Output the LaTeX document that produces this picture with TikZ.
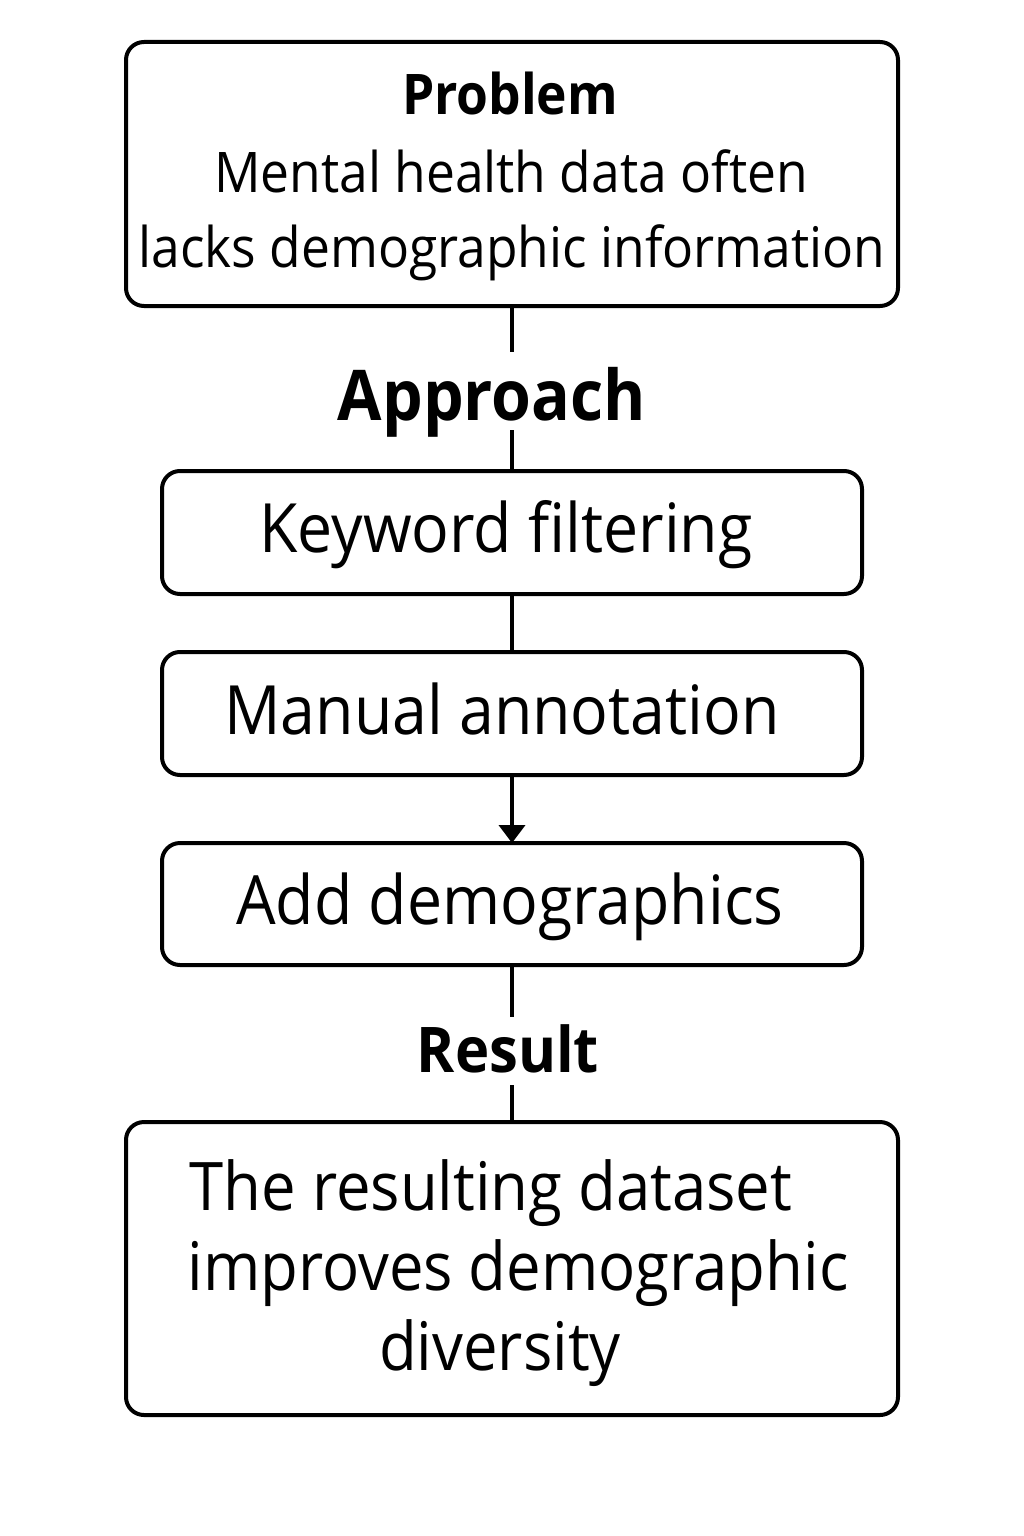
\documentclass[tikz,border=0pt]{standalone}
\usepackage{fontspec}
\setmainfont{Open Sans}[FakeStretch=0.92]
\usetikzlibrary{arrows.meta}
\tikzset{
  box/.style={draw=black, line width=4pt, rounded corners=18pt},
  conn/.style={draw=black, line width=4pt},
  txt/.style={inner sep=0pt, anchor=base},
}
\begin{document}
\begin{tikzpicture}[x=1pt,y=-1pt]
\useasboundingbox (0,0) rectangle (1024,1536);
\fill[white] (0,0) rectangle (1024,1536);
% boxes
\draw[box] (126,42) rectangle (898,306);
\draw[box] (162,471) rectangle (862,594);
\draw[box] (162,652) rectangle (862,775);
\draw[box] (162,843) rectangle (862,965);
\draw[box] (126,1122) rectangle (898,1415);
\coordinate (pb) at (512,306);
\coordinate (kt) at (512,471);
\coordinate (kb) at (512,594);
\coordinate (mt) at (512,652);
\coordinate (mb) at (512,775);
\coordinate (at) at (512,843);
\coordinate (ab) at (512,965);
\coordinate (rt) at (512,1122);
% texts
\node[txt, font=\fontsize{56}{60}\selectfont\bfseries] (prob) at (510,115) {Problem};
\node[txt, font=\fontsize{56}{60}\selectfont] (p1) at (511,192) {Mental health data often};
\node[txt, font=\fontsize{56}{60}\selectfont] (p2) at (512,267) {lacks demographic information};
\node[txt, font=\fontsize{70}{74}\selectfont\bfseries] (appr) at (492,420) {Approach};
\node[txt, font=\fontsize{68}{72}\selectfont] (kw) at (506,552) {Keyword filtering};
\node[txt, font=\fontsize{68}{72}\selectfont] (ma) at (502,734) {Manual annotation};
\node[txt, font=\fontsize{68}{72}\selectfont] (ad) at (510,924) {Add demographics};
\node[txt, font=\fontsize{63}{67}\selectfont\bfseries] (res) at (508,1072) {Result};
\node[txt, font=\fontsize{67}{70}\selectfont] (r1) at (491,1210) {The resulting dataset};
\node[txt, font=\fontsize{67}{70}\selectfont] (r2) at (518,1290) {improves demographic};
\node[txt, font=\fontsize{67}{70}\selectfont] (r3) at (500,1370) {diversity};
% connectors
\coordinate (a1) at (512,352);
\coordinate (a2) at (512,430);
\coordinate (r1t) at (512,1017);
\coordinate (r2b) at (512,1085);
\draw[conn] (pb) -- (a1);
\draw[conn] (a2) -- (kt);
\draw[conn] (kb) -- (mt);
\draw[conn, -{Triangle[width=26pt,length=18pt]}] (mb) -- (at);
\draw[conn] (ab) -- (r1t);
\draw[conn] (r2b) -- (rt);
\end{tikzpicture}
\end{document}
